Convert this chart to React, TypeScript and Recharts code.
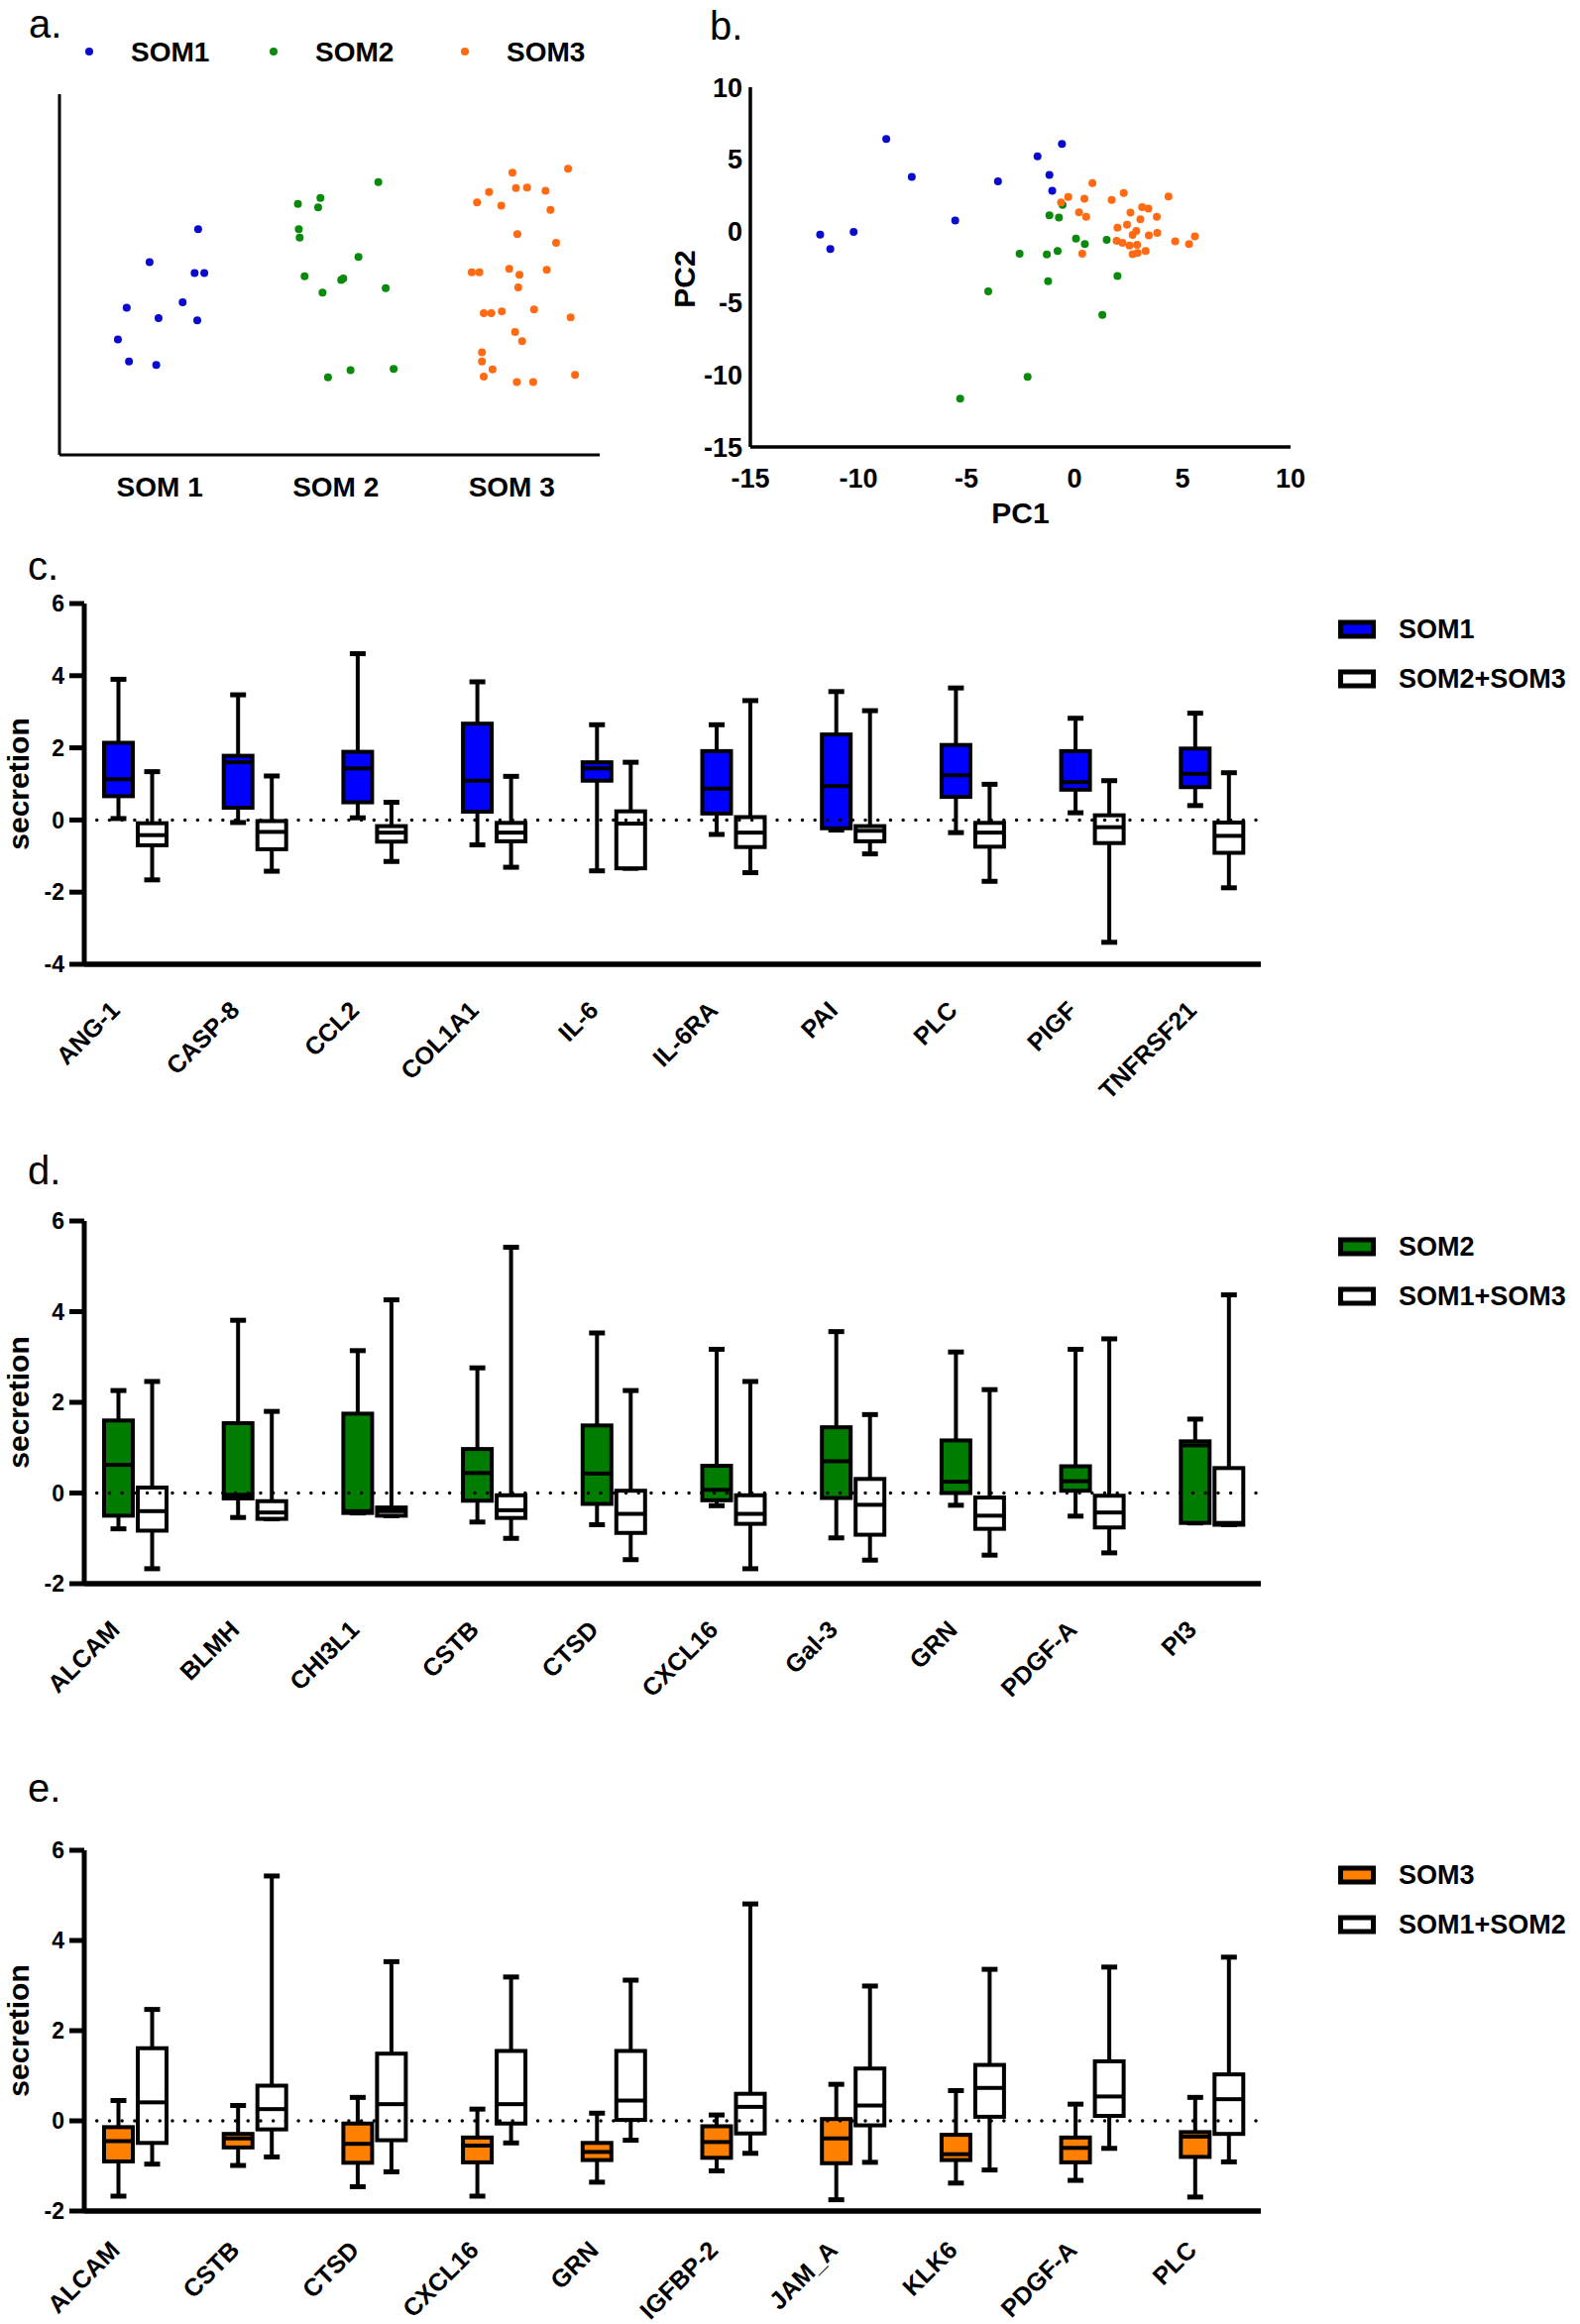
import {
  ScatterChart,
  Scatter,
  ComposedChart,
  Bar,
  XAxis,
  YAxis,
  ReferenceLine,
} from 'recharts';

const FONT = 'Liberation Sans, Arial, Helvetica, sans-serif';

// ---- panel a: SOM groups (x = jittered group position, y = arbitrary units 0-100)
const somLabels = ['SOM 1', 'SOM 2', 'SOM 3'];
const somTicks = [0.5, 1.5, 2.5];

const som1Points = [
  [0.718, 62.6], [0.442, 53.4], [0.698, 50.4], [0.753, 50.4], [0.63, 42.3], [0.312, 40.8],
  [0.493, 37.9], [0.713, 37.3], [0.262, 32.0], [0.325, 25.9], [0.48, 24.9],
];
const som2Points = [
  [1.742, 75.6], [1.413, 71.2], [1.285, 69.6], [1.4, 68.6], [1.29, 62.6], [1.295, 60.2],
  [1.629, 54.9], [1.323, 49.5], [1.531, 48.5], [1.543, 48.9], [1.425, 45.0], [1.784, 46.2],
  [1.829, 23.8], [1.584, 23.5], [1.456, 21.5],
];
const som3Points = [
  [2.82, 79.3], [2.504, 78.2], [2.524, 74.0], [2.587, 74.1], [2.371, 72.9], [2.692, 73.2],
  [2.303, 70.0], [2.441, 69.1], [2.72, 67.9], [2.532, 61.2], [2.752, 58.8], [2.273, 50.6],
  [2.316, 50.6], [2.486, 51.6], [2.544, 49.9], [2.699, 51.3], [2.537, 46.4], [2.341, 39.3],
  [2.384, 39.3], [2.444, 39.8], [2.627, 40.3], [2.835, 38.1], [2.519, 34.1], [2.559, 31.5],
  [2.331, 28.4], [2.331, 25.9], [2.391, 23.7], [2.341, 21.7], [2.86, 22.2], [2.529, 20.2],
  [2.622, 20.2],
];

// ---- panel b: PCA (PC1, PC2)
const pcaSom1 = [
  [-8.71, 6.4], [-7.53, 3.76], [-1.71, 5.19], [-0.58, 6.05], [-1.16, 3.9], [-3.54, 3.45],
  [-1.03, 2.81], [-5.52, 0.74], [-11.77, -0.24], [-10.22, -0.05], [-11.3, -1.24],
];
const pcaSom2 = [
  [-0.55, 1.83], [-1.16, 1.1], [-0.72, 0.95], [0.07, -0.52], [0.48, -0.9], [1.49, -0.6],
  [-2.54, -1.57], [-1.28, -1.62], [-0.78, -1.38], [-1.22, -3.48], [-3.99, -4.19],
  [1.99, -3.12], [1.29, -5.83], [-2.17, -10.12], [-5.29, -11.64],
];
const pcaSom3 = [
  [-0.62, 2.0], [-0.29, 2.38], [0.46, 2.26], [0.83, 3.33], [1.72, 2.17], [2.28, 2.64],
  [4.35, 2.4], [0.21, 1.31], [0.54, 1.0], [2.59, 1.29], [3.13, 1.67], [3.42, 1.57],
  [3.81, 1.0], [3.05, 0.83], [1.99, 0.24], [2.43, 0.45], [2.86, 0.02], [2.69, -0.26],
  [3.44, -0.29], [3.83, -0.12], [5.57, -0.36], [1.95, -0.67], [2.22, -0.81], [2.55, -1.0],
  [2.9, -0.95], [4.66, -0.71], [5.3, -0.9], [0.36, -1.57], [2.69, -1.6], [2.92, -1.52],
  [3.29, -1.38],
];
const pcaTicks = [-15, -10, -5, 0, 5, 10];

// ---- box plots: [min, q1, median, q3, max]
const cGenes = ['ANG-1', 'CASP-8', 'CCL2', 'COL1A1', 'IL-6', 'IL-6RA', 'PAI', 'PLC', 'PIGF', 'TNFRSF21'];
const cSom1 = [
  [0.04, 0.66, 1.13, 2.14, 3.9], [-0.07, 0.34, 1.6, 1.78, 3.47], [0.06, 0.49, 1.43, 1.89, 4.61],
  [-0.69, 0.23, 1.09, 2.67, 3.83], [-1.41, 1.09, 1.43, 1.6, 2.64], [-0.4, 0.18, 0.87, 1.91, 2.64],
  [-0.28, -0.23, 0.94, 2.37, 3.56], [-0.35, 0.64, 1.24, 2.08, 3.66], [0.2, 0.84, 1.05, 1.91, 2.82],
  [0.4, 0.91, 1.28, 1.98, 2.96],
];
const cRest = [
  [-1.66, -0.7, -0.42, -0.09, 1.34], [-1.42, -0.81, -0.33, -0.03, 1.22], [-1.15, -0.6, -0.35, -0.17, 0.49],
  [-1.31, -0.59, -0.35, -0.08, 1.21], [-1.34, -1.34, -0.1, 0.24, 1.6], [-1.46, -0.75, -0.35, 0.08, 3.31],
  [-0.94, -0.59, -0.3, -0.17, 3.03], [-1.7, -0.74, -0.35, -0.08, 0.99], [-3.39, -0.64, -0.2, 0.13, 1.09],
  [-1.88, -0.91, -0.44, -0.07, 1.31],
];

const dGenes = ['ALCAM', 'BLMH', 'CHI3L1', 'CSTB', 'CTSD', 'CXCL16', 'Gal-3', 'GRN', 'PDGF-A', 'PI3'];
const dSom2 = [
  [-0.79, -0.5, 0.62, 1.6, 2.26], [-0.54, -0.12, -0.04, 1.54, 3.81], [-0.44, -0.44, -0.4, 1.75, 3.14],
  [-0.64, -0.17, 0.44, 0.97, 2.76], [-0.7, -0.24, 0.43, 1.49, 3.53], [-0.28, -0.16, 0.07, 0.6, 3.17],
  [-0.99, -0.11, 0.7, 1.45, 3.56], [-0.27, 0.0, 0.25, 1.16, 3.11], [-0.51, 0.05, 0.26, 0.59, 3.17],
  [-0.66, -0.66, 1.05, 1.14, 1.63],
];
const dRest = [
  [-1.67, -0.83, -0.4, 0.12, 2.46], [-0.57, -0.57, -0.43, -0.18, 1.8], [-0.5, -0.5, -0.4, -0.32, 4.26],
  [-1.0, -0.55, -0.38, -0.05, 5.42], [-1.47, -0.88, -0.46, 0.05, 2.26], [-1.67, -0.68, -0.46, -0.05, 2.46],
  [-1.48, -0.92, -0.26, 0.31, 1.73], [-1.37, -0.79, -0.5, -0.1, 2.28], [-1.32, -0.76, -0.43, -0.06, 3.4],
  [-0.7, -0.7, -0.66, 0.55, 4.37],
];

const eGenes = ['ALCAM', 'CSTB', 'CTSD', 'CXCL16', 'GRN', 'IGFBP-2', 'JAM_A', 'KLK6', 'PDGF-A', 'PLC'];
const eSom3 = [
  [-1.67, -0.9, -0.45, -0.14, 0.45], [-0.99, -0.59, -0.39, -0.29, 0.34], [-1.46, -0.93, -0.51, -0.06, 0.52],
  [-1.67, -0.92, -0.55, -0.37, 0.26], [-1.36, -0.87, -0.69, -0.49, 0.17], [-1.11, -0.82, -0.47, -0.12, 0.13],
  [-1.75, -0.94, -0.39, 0.04, 0.81], [-1.38, -0.87, -0.74, -0.31, 0.67], [-1.32, -0.92, -0.6, -0.37, 0.37],
  [-1.69, -0.8, -0.35, -0.25, 0.52],
];
const eRest = [
  [-0.96, -0.49, 0.41, 1.61, 2.47], [-0.8, -0.19, 0.26, 0.78, 5.43], [-1.13, -0.43, 0.37, 1.49, 3.53],
  [-0.49, -0.06, 0.37, 1.55, 3.19], [-0.43, 0.02, 0.45, 1.55, 3.12], [-0.72, -0.28, 0.31, 0.6, 4.81],
  [-0.92, -0.1, 0.34, 1.16, 2.99], [-1.09, 0.09, 0.73, 1.24, 3.36], [-0.61, 0.11, 0.54, 1.32, 3.41],
  [-0.91, -0.29, 0.48, 1.03, 3.63],
];

const BLUE = '#0000ff';
const GREEN = '#007d00';
const ORANGE = '#ff8000';
const DOT_BLUE = '#0a0acd';
const DOT_GREEN = '#0a8a0a';
const DOT_ORANGE = '#ff6a13';

const toXY = (pts: number[][]) => pts.map(([x, y]) => ({ x, y }));

const dot = (color: string) => (p: any) => <circle cx={p.cx} cy={p.cy} r={4} fill={color} />;

// one box + whiskers, drawn inside the [min, max] range bar
function BoxShape(props: any) {
  const { x, y, width, height, stats, color } = props;
  if (!stats || height == null) return null;
  const [mn, q1, med, q3, mx] = stats;
  const top = Math.min(y, y + height);
  const h = Math.abs(height);
  const k = mx - mn > 0 ? h / (mx - mn) : 0;
  const py = (v: number) => top + (mx - v) * k;
  const cx = x + width / 2;
  return (
    <g>
      <line x1={cx} x2={cx} y1={py(mx)} y2={py(q3)} stroke="#000" strokeWidth={4} />
      <line x1={cx} x2={cx} y1={py(q1)} y2={py(mn)} stroke="#000" strokeWidth={4} />
      <line x1={cx - 8} x2={cx + 8} y1={py(mx)} y2={py(mx)} stroke="#000" strokeWidth={5} />
      <line x1={cx - 8} x2={cx + 8} y1={py(mn)} y2={py(mn)} stroke="#000" strokeWidth={5} />
      <rect x={x} y={py(q3)} width={width} height={Math.max(py(q1) - py(q3), 1)} fill={color} stroke="#000" strokeWidth={4} />
      <line x1={x} x2={x + width} y1={py(med)} y2={py(med)} stroke="#000" strokeWidth={4} />
    </g>
  );
}

const geneTick = (dy: number) => (props: any) => {
  const { x, y, payload } = props;
  return (
    <text
      transform={`translate(${x - 14},${y + dy}) rotate(-45)`}
      textAnchor="end"
      fontSize={25}
      fontWeight={700}
      fontFamily={FONT}
      fill="#000"
    >
      {payload.value}
    </text>
  );
};

function SecretionLabel(props: any) {
  const vb = props.viewBox || { x: 0, y: 0, width: 0, height: 0 };
  const cy = vb.y + vb.height / 2;
  return (
    <text
      x={18}
      y={cy}
      transform={`rotate(-90, 18, ${cy})`}
      textAnchor="middle"
      dominantBaseline="central"
      fontSize={30}
      fontWeight={700}
      fontFamily={FONT}
      fill="#000"
    >
      secretion
    </text>
  );
}

function Pc2Label(props: any) {
  const vb = props.viewBox || { x: 0, y: 0, width: 0, height: 0 };
  const cy = vb.y + vb.height / 2 + 12;
  return (
    <text
      x={20}
      y={cy}
      transform={`rotate(-90, 20, ${cy})`}
      textAnchor="middle"
      dominantBaseline="central"
      fontSize={30}
      fontWeight={700}
      fontFamily={FONT}
      fill="#000"
    >
      PC2
    </text>
  );
}

interface BoxPanelProps {
  top: number;
  height: number;
  marginTop: number;
  marginBottom: number;
  xAxisHeight: number;
  labelDy: number;
  genes: string[];
  groupA: number[][];
  groupB: number[][];
  colorA: string;
  yDomain: number[];
  yTicks: number[];
}

function BoxPanel({ top, height, marginTop, marginBottom, xAxisHeight, labelDy, genes, groupA, groupB, colorA, yDomain, yTicks }: BoxPanelProps) {
  const rows = genes.map((gene, i) => ({
    gene,
    aRange: [groupA[i][0], groupA[i][4]],
    aStats: groupA[i],
    bRange: [groupB[i][0], groupB[i][4]],
    bStats: groupB[i],
  }));
  return (
    <div style={{ position: 'absolute', left: 0, top, width: 1300, height }}>
      <ComposedChart
        width={1300}
        height={height}
        data={rows}
        margin={{ top: marginTop, right: 28, bottom: marginBottom, left: 25 }}
        barSize={29}
        barGap={5}
      >
        <XAxis
          dataKey="gene"
          type="category"
          interval={0}
          padding={{ left: -9, right: -11 }}
          height={xAxisHeight}
          tickLine={false}
          axisLine={{ stroke: '#000', strokeWidth: 5.5 }}
          tick={geneTick(labelDy)}
        />
        <YAxis
          type="number"
          domain={yDomain}
          ticks={yTicks}
          allowDataOverflow
          width={60}
          tickSize={15}
          tickMargin={5}
          tickLine={{ stroke: '#000', strokeWidth: 5 }}
          axisLine={{ stroke: '#000', strokeWidth: 5 }}
          tick={{ fill: '#000', fontSize: 23, fontWeight: 700, fontFamily: FONT }}
          label={SecretionLabel}
        />
        <ReferenceLine y={0} stroke="#000" strokeWidth={3.5} strokeDasharray="0.01 12.7" strokeLinecap="round" />
        <Bar
          dataKey="aRange"
          isAnimationActive={false}
          shape={(p: any) => <BoxShape {...p} stats={p.payload.aStats} color={colorA} />}
        />
        <Bar
          dataKey="bRange"
          isAnimationActive={false}
          shape={(p: any) => <BoxShape {...p} stats={p.payload.bStats} color="#ffffff" />}
        />
      </ComposedChart>
    </div>
  );
}

function BoxLegend({ y, color, labelA, labelB }: { y: number; color: string; labelA: string; labelB: string }) {
  const items = [
    { label: labelA, fill: color, cy: y },
    { label: labelB, fill: '#ffffff', cy: y + 50 },
  ];
  return (
    <g>
      {items.map((it) => (
        <g key={it.label}>
          <rect x={1352.5} y={it.cy - 7} width={33} height={14} fill={it.fill} stroke="#000" strokeWidth={5} />
          <text x={1411} y={it.cy} dominantBaseline="central" fontSize={27} fontWeight={700} fontFamily={FONT} fill="#000">
            {it.label}
          </text>
        </g>
      ))}
    </g>
  );
}

const letterStyle = { fontSize: 40, fontFamily: FONT, fill: '#000' };

export default function App() {
  const legendA = [
    { label: 'SOM1', color: DOT_BLUE, dx: 90, tx: 132 },
    { label: 'SOM2', color: DOT_GREEN, dx: 276, tx: 318 },
    { label: 'SOM3', color: DOT_ORANGE, dx: 469, tx: 511 },
  ];
  return (
    <div style={{ position: 'absolute', left: 0, top: 0, width: 1594, height: 2345, background: '#fff', fontFamily: FONT }}>
      <svg width={1594} height={2345} style={{ position: 'absolute', left: 0, top: 0 }}>
        <text x={29} y={38} {...letterStyle}>a.</text>
        <text x={716} y={40} {...letterStyle}>b.</text>
        <text x={28} y={585} {...letterStyle}>c.</text>
        <text x={28} y={1195} {...letterStyle}>d.</text>
        <text x={28} y={1818} {...letterStyle}>e.</text>
        {legendA.map((l) => (
          <g key={l.label}>
            <circle cx={l.dx} cy={52} r={4} fill={l.color} />
            <text x={l.tx} y={52} dominantBaseline="central" fontSize={28} fontWeight={700} fontFamily={FONT} fill="#000">
              {l.label}
            </text>
          </g>
        ))}
        <BoxLegend y={635} color={BLUE} labelA="SOM1" labelB="SOM2+SOM3" />
        <BoxLegend y={1258} color={GREEN} labelA="SOM2" labelB="SOM1+SOM3" />
        <BoxLegend y={1892} color={ORANGE} labelA="SOM3" labelB="SOM1+SOM2" />
      </svg>

      {/* a. */}
      <div style={{ position: 'absolute', left: 0, top: 0, width: 640, height: 540 }}>
        <ScatterChart width={640} height={540} margin={{ top: 95, right: 35, bottom: 21, left: 50 }}>
          <XAxis
            type="number"
            dataKey="x"
            domain={[-0.07, 3]}
            ticks={somTicks}
            tickFormatter={(v: number) => somLabels[somTicks.indexOf(v)] ?? ''}
            height={60}
            tickLine={false}
            tickMargin={16}
            axisLine={{ stroke: '#000', strokeWidth: 3 }}
            tick={{ fill: '#000', fontSize: 28, fontWeight: 700, fontFamily: FONT }}
          />
          <YAxis
            type="number"
            dataKey="y"
            domain={[0, 100]}
            width={10}
            tick={false}
            tickLine={false}
            axisLine={{ stroke: '#000', strokeWidth: 3 }}
          />
          <Scatter name="SOM1" data={toXY(som1Points)} isAnimationActive={false} shape={dot(DOT_BLUE)} />
          <Scatter name="SOM2" data={toXY(som2Points)} isAnimationActive={false} shape={dot(DOT_GREEN)} />
          <Scatter name="SOM3" data={toXY(som3Points)} isAnimationActive={false} shape={dot(DOT_ORANGE)} />
        </ScatterChart>
      </div>

      {/* b. */}
      <div style={{ position: 'absolute', left: 670, top: 0, width: 670, height: 560 }}>
        <ScatterChart width={670} height={560} margin={{ top: 88, right: 38, bottom: 32, left: 30 }}>
          <XAxis
            type="number"
            dataKey="x"
            domain={[-15, 10]}
            ticks={pcaTicks}
            height={77}
            tickLine={false}
            tickMargin={16}
            axisLine={{ stroke: '#000', strokeWidth: 3.5 }}
            tick={{ fill: '#000', fontSize: 27, fontWeight: 700, fontFamily: FONT }}
            label={{ value: 'PC1', position: 'insideBottom', offset: 0, fill: '#000', fontSize: 30, fontWeight: 700, fontFamily: FONT }}
          />
          <YAxis
            type="number"
            dataKey="y"
            domain={[-15, 10]}
            ticks={pcaTicks}
            width={57}
            tickLine={false}
            axisLine={{ stroke: '#000', strokeWidth: 3.5 }}
            tick={{ fill: '#000', fontSize: 27, fontWeight: 700, fontFamily: FONT }}
            label={Pc2Label}
          />
          <Scatter name="SOM1" data={toXY(pcaSom1)} isAnimationActive={false} shape={dot(DOT_BLUE)} />
          <Scatter name="SOM2" data={toXY(pcaSom2)} isAnimationActive={false} shape={dot(DOT_GREEN)} />
          <Scatter name="SOM3" data={toXY(pcaSom3)} isAnimationActive={false} shape={dot(DOT_ORANGE)} />
        </ScatterChart>
      </div>

      {/* c. */}
      <BoxPanel
        top={560}
        height={565}
        marginTop={49}
        marginBottom={22}
        xAxisHeight={130}
        labelDy={40}
        genes={cGenes}
        groupA={cSom1}
        groupB={cRest}
        colorA={BLUE}
        yDomain={[-4, 6]}
        yTicks={[-4, -2, 0, 2, 4, 6]}
      />

      {/* d. */}
      <BoxPanel
        top={1180}
        height={560}
        marginTop={52}
        marginBottom={12}
        xAxisHeight={130}
        labelDy={40}
        genes={dGenes}
        groupA={dSom2}
        groupB={dRest}
        colorA={GREEN}
        yDomain={[-2, 6]}
        yTicks={[-2, 0, 2, 4, 6]}
      />

      {/* e. */}
      <BoxPanel
        top={1820}
        height={525}
        marginTop={47}
        marginBottom={0}
        xAxisHeight={114}
        labelDy={33}
        genes={eGenes}
        groupA={eSom3}
        groupB={eRest}
        colorA={ORANGE}
        yDomain={[-2, 6]}
        yTicks={[-2, 0, 2, 4, 6]}
      />
    </div>
  );
}
